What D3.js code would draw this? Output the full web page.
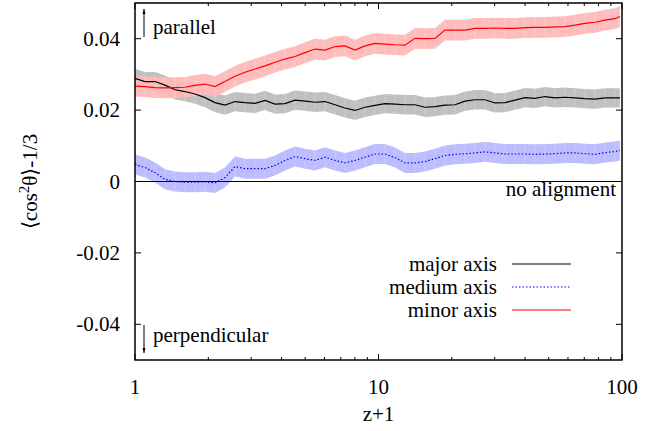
<!DOCTYPE html>
<meta charset="UTF-8">
<head>
    <script src="https://d3js.org/d3.v7.min.js"></script>
    <style>
        body { margin: 0; background: #fff; }
    </style>
</head>
<body>
<script>
    // z+1 sample positions
    var zp1 = [1.00, 1.099, 1.208, 1.328, 1.459, 1.604, 1.764, 1.939, 2.131, 2.342,
        2.575, 2.830, 3.111, 3.420, 3.758, 4.130, 4.541, 4.991, 5.486, 6.030,
        6.629, 7.286, 8.009, 8.804, 9.674, 10.63, 11.69, 12.85, 14.12, 15.52,
        17.06, 18.75, 20.62, 22.66, 24.91, 27.38, 30.09, 33.07, 36.36, 39.96,
        43.92, 48.29, 53.07, 58.34, 64.12, 70.47, 77.47, 85.14, 93.60, 98.1];

    var majorAxis = [0.0289, 0.0280, 0.0280, 0.0270, 0.0257, 0.0252, 0.0245, 0.0235, 0.0221, 0.0214,
        0.0224, 0.0221, 0.0219, 0.0227, 0.0217, 0.0218, 0.0228, 0.0225, 0.0222, 0.0224,
        0.0215, 0.0206, 0.0199, 0.0208, 0.0213, 0.0218, 0.0217, 0.0215, 0.0215, 0.0208,
        0.0210, 0.0214, 0.0215, 0.0225, 0.0229, 0.0229, 0.0220, 0.0221, 0.0228, 0.0235,
        0.0233, 0.0238, 0.0234, 0.0236, 0.0234, 0.0232, 0.0231, 0.0234, 0.0234, 0.0234];

    var mediumAxis = [0.0048, 0.0039, 0.0025, 0.0006, 0.0000, -0.0002, -0.0002, -0.0001, -0.0004, 0.0011,
        0.0042, 0.0036, 0.0036, 0.0036, 0.0045, 0.0059, 0.0070, 0.0064, 0.0059, 0.0068,
        0.0059, 0.0052, 0.0059, 0.0068, 0.0077, 0.0077, 0.0067, 0.0052, 0.0052, 0.0056,
        0.0064, 0.0073, 0.0076, 0.0078, 0.0080, 0.0083, 0.0080, 0.0077, 0.0077, 0.0077,
        0.0076, 0.0077, 0.0078, 0.0080, 0.0080, 0.0078, 0.0076, 0.0081, 0.0084, 0.0087];

    var minorAxis = [0.0267, 0.0266, 0.0263, 0.0262, 0.0263, 0.0264, 0.0269, 0.0273, 0.0266, 0.0280,
        0.0295, 0.0306, 0.0315, 0.0324, 0.0334, 0.0343, 0.0350, 0.0361, 0.0371, 0.0368,
        0.0378, 0.0380, 0.0368, 0.0380, 0.0387, 0.0385, 0.0383, 0.0382, 0.0401, 0.0400,
        0.0401, 0.0424, 0.0424, 0.0424, 0.0429, 0.0429, 0.0430, 0.0429, 0.0429, 0.0431,
        0.0432, 0.0432, 0.0433, 0.0434, 0.0438, 0.0443, 0.0446, 0.0452, 0.0456, 0.0462];

    // half width of the error bands
    var errMajor = 0.0027, errMedium = 0.0028, errMinor = 0.0029;

    var xTicks = [1, 10, 100];
    var yTicks = [-0.04, -0.02, 0, 0.02, 0.04];
    var yTickLabels = ["-0.04", "-0.02", "0", "0.02", "0.04"];

    var width = 657, height = 431;
    var margin = { top: 3, right: 35, bottom: 71, left: 135 };
    var fontSize = 21;

    var svg = d3.select("body").append("svg")
        .attr("width", width)
        .attr("height", height)
        .attr("font-family", "'Liberation Serif', 'Times New Roman', Times, serif")
        .attr("font-size", fontSize);

    var x = d3.scaleLog().domain([1, 100]).range([margin.left, width - margin.right]);
    var y = d3.scaleLinear().domain([-0.05, 0.05]).range([height - margin.bottom, margin.top]);

    var series = [
        { name: "major axis", values: majorAxis, err: errMajor, color: "#000000", band: "#bdbdbd", dash: null },
        { name: "medium axis", values: mediumAxis, err: errMedium, color: "#0000ff", band: "#b8b8ff", dash: "1.5,2" },
        { name: "minor axis", values: minorAxis, err: errMinor, color: "#ff0000", band: "#ffb8b8", dash: null }
    ];

    var plot = svg.append("g");

    // error bands
    series.forEach(function (s) {
        var area = d3.area()
            .x(function (d, i) { return x(zp1[i]); })
            .y0(function (d) { return y(d - s.err); })
            .y1(function (d) { return y(d + s.err); });
        plot.append("path")
            .datum(s.values)
            .attr("d", area)
            .attr("fill", s.band)
            .attr("opacity", 0.95);
        // faint vertical stripes like gnuplot error bars
        plot.append("g").selectAll("line")
            .data(s.values)
            .enter().append("line")
            .attr("x1", function (d, i) { return x(zp1[i]); })
            .attr("x2", function (d, i) { return x(zp1[i]); })
            .attr("y1", function (d) { return y(d - s.err); })
            .attr("y2", function (d) { return y(d + s.err); })
            .attr("stroke", "#fff")
            .attr("stroke-opacity", 0.35)
            .attr("stroke-width", 0.6);
    });

    // zero line
    plot.append("line")
        .attr("x1", x(1)).attr("x2", x(100))
        .attr("y1", y(0)).attr("y2", y(0))
        .attr("stroke", "#000")
        .attr("stroke-width", 1);

    // curves
    var line = d3.line()
        .x(function (d, i) { return x(zp1[i]); })
        .y(function (d) { return y(d); });

    series.forEach(function (s) {
        plot.append("path")
            .datum(s.values)
            .attr("d", line)
            .attr("fill", "none")
            .attr("stroke", s.color)
            .attr("stroke-width", 1.2)
            .attr("stroke-dasharray", s.dash);
    });

    // frame
    svg.append("rect")
        .attr("x", x(1)).attr("y", y(0.05))
        .attr("width", x(100) - x(1))
        .attr("height", y(-0.05) - y(0.05))
        .attr("fill", "none")
        .attr("stroke", "#000")
        .attr("stroke-width", 1.5);

    // ticks (mirrored on all four sides)
    var minorX = [];
    [1, 10].forEach(function (d) {
        for (var k = 2; k <= 9; k++) minorX.push(d * k);
    });
    var ticks = svg.append("g").attr("stroke", "#000").attr("stroke-width", 1);
    xTicks.forEach(function (t) {
        ticks.append("line").attr("x1", x(t)).attr("x2", x(t)).attr("y1", y(-0.05)).attr("y2", y(-0.05) - 6);
        ticks.append("line").attr("x1", x(t)).attr("x2", x(t)).attr("y1", y(0.05)).attr("y2", y(0.05) + 6);
    });
    minorX.forEach(function (t) {
        ticks.append("line").attr("x1", x(t)).attr("x2", x(t)).attr("y1", y(-0.05)).attr("y2", y(-0.05) - 3);
        ticks.append("line").attr("x1", x(t)).attr("x2", x(t)).attr("y1", y(0.05)).attr("y2", y(0.05) + 3);
    });
    yTicks.forEach(function (t) {
        ticks.append("line").attr("x1", x(1)).attr("x2", x(1) + 6).attr("y1", y(t)).attr("y2", y(t));
        ticks.append("line").attr("x1", x(100)).attr("x2", x(100) - 6).attr("y1", y(t)).attr("y2", y(t));
    });

    // tick labels
    svg.append("g").selectAll("text")
        .data(xTicks)
        .enter().append("text")
        .attr("x", function (d) { return x(d); })
        .attr("y", 394)
        .attr("text-anchor", "middle")
        .text(function (d) { return d; });

    svg.append("g").selectAll("text")
        .data(yTicks)
        .enter().append("text")
        .attr("x", x(1) - 15)
        .attr("y", function (d) { return y(d) + 7; })
        .attr("text-anchor", "end")
        .text(function (d, i) { return yTickLabels[i]; });

    // axis titles
    svg.append("text")
        .attr("x", x(10))
        .attr("y", 421)
        .attr("text-anchor", "middle")
        .text("z+1");

    var ylab = svg.append("text")
        .attr("transform", "translate(37," + y(0) + ") rotate(-90)")
        .attr("text-anchor", "middle");
    ylab.append("tspan").text("\u27E8cos");
    ylab.append("tspan").attr("dy", -8).attr("font-size", 15).text("2");
    ylab.append("tspan").attr("dy", 8).text("\u03B8\u27E9-1/3");

    // annotations
    var defs = svg.append("defs");
    defs.append("marker")
        .attr("id", "arrow")
        .attr("viewBox", "0 -5 10 10")
        .attr("refX", 10).attr("refY", 0)
        .attr("markerWidth", 5).attr("markerHeight", 7)
        .attr("orient", "auto")
        .append("path")
        .attr("d", "M0,-3L10,0L0,3Z")
        .attr("fill", "#000");

    svg.append("line")
        .attr("x1", 144).attr("x2", 144).attr("y1", 37).attr("y2", 9)
        .attr("stroke", "#000").attr("stroke-width", 1)
        .attr("marker-end", "url(#arrow)");
    svg.append("text").attr("x", 153).attr("y", 34).text("parallel");

    svg.append("line")
        .attr("x1", 144).attr("x2", 144).attr("y1", 325).attr("y2", 353)
        .attr("stroke", "#000").attr("stroke-width", 1)
        .attr("marker-end", "url(#arrow)");
    svg.append("text").attr("x", 153).attr("y", 342).text("perpendicular");

    svg.append("text")
        .attr("x", 616).attr("y", 196)
        .attr("text-anchor", "end")
        .text("no alignment");

    // legend
    var legend = svg.append("g");
    series.forEach(function (s, i) {
        var ly = 264 + i * 23;
        legend.append("text")
            .attr("x", 497).attr("y", ly + 7)
            .attr("text-anchor", "end")
            .text(s.name);
        legend.append("line")
            .attr("x1", 512).attr("x2", 571)
            .attr("y1", ly).attr("y2", ly)
            .attr("stroke", s.color)
            .attr("stroke-width", 1.2)
            .attr("stroke-dasharray", s.dash);
    });
</script>
</body>
